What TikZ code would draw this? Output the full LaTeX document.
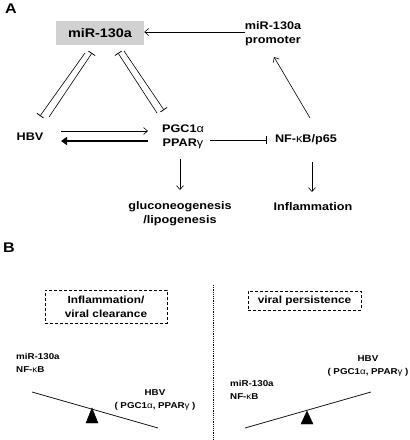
\documentclass[tikz,border=0pt]{standalone}
\usepackage{fontspec}
\setmainfont{Liberation Sans}[FakeStretch=1.15]
\usetikzlibrary{arrows.meta}
\begin{document}
\begin{tikzpicture}[x=1pt,y=-1pt,
  lbl/.style={font=\bfseries\fontsize{11}{14}\selectfont,align=center,inner sep=0pt},
  small/.style={font=\bfseries\fontsize{8.5}{11}\selectfont,align=left,inner sep=0pt},
  panel/.style={font=\bfseries\fontsize{14}{16}\selectfont,inner sep=0pt},
  act/.style={line width=0.6pt,-{Straight Barb[length=4pt,width=7pt]}},
  strong/.style={line width=2.2pt,-{Triangle[length=6pt,width=8pt]}},
  inh/.style={line width=0.6pt,-{Bar[width=8pt,line width=0.8pt]}},
  dbox/.style={draw,dashed,line width=1pt,dash pattern=on 3pt off 2pt},
  beam/.style={line width=0.7pt},
  fulcrum/.style={fill=black}]
\useasboundingbox (0,0) rectangle (410,440);
\newcommand{\grk}[1]{\textmd{#1}}

% ---------- panel A ----------
\node[panel] (A) at (11,9) {A};
\node[lbl,fill=black!18,minimum width=88pt,minimum height=24pt,
      font=\bfseries\fontsize{12.5}{14}\selectfont] (mir) at (100,33) {miR-130a};
\node[lbl] (prom) at (273,34) {miR-130a\\promoter};
\node[lbl] (hbv) at (30,137) {HBV};
\node[lbl] (pgc) at (183,137) {PGC1\grk{α}\\PPAR\grk{γ}};
\node[lbl] (nfkb) at (306,140) {NF-\grk{κ}B/p65};
\node[lbl] (glu) at (180,214) {gluconeogenesis\\/lipogenesis};
\node[lbl] (infl) at (313,207) {Inflammation};

% promoter drives miR-130a
\draw[act] (prom.west |- 0,32) -- (mir.east |- 0,32);
% NF-kB activates the promoter
\coordinate (nfTop) at (310,118);
\coordinate (promBot) at (274,57);
\draw[act] (nfTop) -- (promBot);

% mutual inhibition miR-130a <-> HBV
\coordinate (m1) at (85,53);  \coordinate (h1) at (40,116);
\coordinate (m2) at (92,53);  \coordinate (h2) at (49,117);
\draw[inh] (m1) -- (h1);
\draw[inh] (h2) -- (m2);
% mutual inhibition miR-130a <-> PGC1a/PPARg
\coordinate (m3) at (118,53); \coordinate (p3) at (157,113);
\coordinate (m4) at (124,51); \coordinate (p4) at (164,110);
\draw[inh] (p3) -- (m3);
\draw[inh] (m4) -- (p4);

% HBV <-> PGC1a/PPARg
\coordinate (hA) at (61,131); \coordinate (pA) at (148,131);
\coordinate (pB) at (148,141); \coordinate (hB) at (61,141);
\draw[act] (hA) -- (pA);
\draw[strong] (pB) -- (hB);

% PGC1a/PPARg inhibits NF-kB
\coordinate (pC) at (210,140); \coordinate (nC) at (267,140);
\draw[inh] (pC) -- (nC);

% downstream effects
\coordinate (pD) at (180,159); \coordinate (gD) at (180,190);
\draw[act] (pD) -- (gD);
\coordinate (nD) at (312,162); \coordinate (iD) at (312,192);
\draw[act] (nD) -- (iD);

% ---------- panel B ----------
\node[panel] (B) at (9,248) {B};
\coordinate (divTop) at (213,285); \coordinate (divBot) at (213,440);
\draw[line width=0.8pt,dash pattern=on 1.2pt off 1pt] (divTop) -- (divBot);

\node[dbox,lbl,minimum width=122pt,minimum height=33pt,
      font=\bfseries\fontsize{10.3}{14}\selectfont] (clr) at (106,306.5)
      {Inflammation/\\viral clearance};
\node[dbox,lbl,minimum width=113pt,minimum height=19pt,
      font=\bfseries\fontsize{10.3}{14}\selectfont] (pers) at (304.5,300.5)
      {viral persistence};

% left balance: host factors heavier
\coordinate (lb1) at (32,392); \coordinate (lb2) at (158,428);
\draw[beam] (lb1) -- (lb2);
\draw[fulcrum] (92,408) -- (98,423) -- (86,423) -- cycle;
\node[small,anchor=west] (lmir) at (16,363) {miR-130a\\[2pt]NF-\grk{κ}B};
\node[small,align=center] (lhbv) at (155,400) {HBV\\[2pt]( PGC1\grk{α}, PPAR\grk{γ} )};

% right balance: viral factors heavier
\coordinate (rb1) at (245,428); \coordinate (rb2) at (371,392);
\draw[beam] (rb1) -- (rb2);
\draw[fulcrum] (307,411) -- (313,424) -- (301,424) -- cycle;
\node[small,anchor=west] (rmir) at (230,390) {miR-130a\\[2pt]NF-\grk{κ}B};
\node[small,align=center] (rhbv) at (368,366) {HBV\\[2pt]( PGC1\grk{α}, PPAR\grk{γ} )};
\end{tikzpicture}
\end{document}
